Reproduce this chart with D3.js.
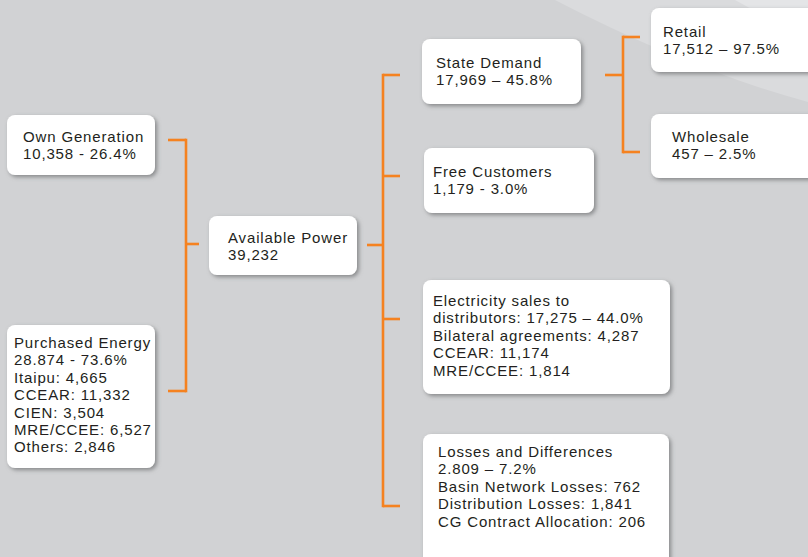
<!DOCTYPE html>
<html>
<head>
  <meta charset="UTF-8">
  <script src="https://d3js.org/d3.v7.min.js"></script>
  <style>
    html, body { margin: 0; padding: 0; background: #d1d2d4; }
    svg { display: block; }
    .boxtext { font-family: 'Liberation Sans', Arial, sans-serif; font-size: 15px; fill: #231f20; letter-spacing: 0.85px; }
  </style>
</head>
<body>
<svg id="chart"></svg>
<script>
  // node data
  const nodeIds = ['own', 'purchased', 'available', 'state', 'free', 'sales', 'losses', 'retail', 'wholesale'];
  const nodeTitles = ['Own Generation', 'Purchased Energy', 'Available Power', 'State Demand', 'Free Customers',
    'Electricity sales to', 'Losses and Differences', 'Retail', 'Wholesale'];
  const nodeValues = ['10,358', '28.874', '39,232', '17,969', '1,179', '17,275', '2.809', '17,512', '457'];
  const nodeShares = ['26.4%', '73.6%', null, '45.8%', '3.0%', '44.0%', '7.2%', '97.5%', '2.5%'];
  const nodeSeps = [' - ', ' - ', '', ' – ', ' - ', ' – ', ' – ', ' – ', ' – '];
  const nodeDetails = {
    purchased: ['Itaipu: 4,665', 'CCEAR: 11,332', 'CIEN: 3,504', 'MRE/CCEE: 6,527', 'Others: 2,846'],
    sales: ['Bilateral agreements: 4,287', 'CCEAR: 11,174', 'MRE/CCEE: 1,814'],
    losses: ['Basin Network Losses: 762', 'Distribution Losses: 1,841', 'CG Contract Allocation: 206']
  };
  const valuePrefix = { sales: 'distributors: ' };

  // tree links: parent -> children
  const treeLinks = [
    { parent: 'available', children: ['own', 'purchased'] },
    { parent: 'available', children: ['state', 'free', 'sales', 'losses'] },
    { parent: 'state', children: ['retail', 'wholesale'] }
  ];

  // layout (box geometry)
  const layout = {
    own:       { x: 7,   y: 115, w: 148, h: 60,  tx: 16, ty: 27 },
    purchased: { x: 7,   y: 325, w: 148, h: 143, tx: 7,  ty: 23 },
    available: { x: 209, y: 216, w: 148, h: 59,  tx: 19, ty: 27 },
    state:     { x: 422, y: 39,  w: 159, h: 65,  tx: 14, ty: 29 },
    free:      { x: 424, y: 148, w: 170, h: 65,  tx: 9,  ty: 29 },
    sales:     { x: 423, y: 280, w: 247, h: 114, tx: 10, ty: 26 },
    losses:    { x: 423, y: 434, w: 246, h: 140, tx: 15, ty: 23 },
    retail:    { x: 651, y: 8,   w: 170, h: 64,  tx: 12, ty: 29 },
    wholesale: { x: 651, y: 114, w: 170, h: 64,  tx: 21, ty: 28 }
  };
  const lineHeight = 17.4;
  const brackets = [
    { spine: 186, armX: 168, arms: { own: 140, purchased: 391 }, stemY: 244, stemX: 199 },
    { spine: 383, armX: 400, arms: { state: 75, free: 176, sales: 319, losses: 506 }, stemY: 245, stemX: 367 },
    { spine: 623, armX: 640, arms: { retail: 37, wholesale: 152 }, stemY: 75, stemX: 605 }
  ];

  const width = 808, height = 557;
  const svg = d3.select('#chart').attr('width', width).attr('height', height);

  const defs = svg.append('defs');
  const shadow = defs.append('filter').attr('id', 'shadow')
    .attr('x', '-10%').attr('y', '-10%').attr('width', '130%').attr('height', '130%');
  shadow.append('feDropShadow')
    .attr('dx', 2).attr('dy', 2).attr('stdDeviation', 2)
    .attr('flood-color', '#6d6e71').attr('flood-opacity', 0.75);

  // background
  svg.append('rect').attr('width', width).attr('height', height).attr('fill', '#d1d2d4');
  svg.append('path')
    .attr('d', 'M555,0 Q690,70 808,102 L808,0 Z')
    .attr('fill', '#dadbdd');
  svg.append('path')
    .attr('d', 'M735,0 Q775,22 808,38 L808,0 Z')
    .attr('fill', '#e4e5e7');

  // connectors
  const line = d3.line();
  const conn = svg.append('g')
    .attr('fill', 'none')
    .attr('stroke', '#f58220')
    .attr('stroke-width', 2.6);

  treeLinks.forEach((lk, i) => {
    const b = brackets[i];
    const ys = lk.children.map(c => b.arms[c]);
    const y0 = d3.min(ys), y1 = d3.max(ys);
    conn.append('path').attr('d', line([[b.spine, y0 - 1.3], [b.spine, y1 + 1.3]]));
    lk.children.forEach(c => {
      conn.append('path').attr('d', line([[b.spine, b.arms[c]], [b.armX, b.arms[c]]]));
    });
    conn.append('path').attr('d', line([[b.spine, b.stemY], [b.stemX, b.stemY]]));
  });

  // nodes
  const nodes = nodeIds.map((id, i) => {
    const lines = [nodeTitles[i]];
    let second = (valuePrefix[id] || '') + nodeValues[i];
    if (nodeShares[i]) second += nodeSeps[i] + nodeShares[i];
    lines.push(second);
    (nodeDetails[id] || []).forEach(t => lines.push(t));
    return { id, lines, ...layout[id] };
  });

  const g = svg.append('g').selectAll('g.node')
    .data(nodes)
    .join('g')
    .attr('class', 'node')
    .attr('transform', d => `translate(${d.x},${d.y})`);

  g.append('rect')
    .attr('width', d => d.w)
    .attr('height', d => d.h)
    .attr('rx', 8)
    .attr('fill', '#ffffff')
    .attr('filter', 'url(#shadow)');

  g.append('text')
    .attr('class', 'boxtext')
    .selectAll('tspan')
    .data(d => d.lines.map((t, j) => ({ t, j, d })))
    .join('tspan')
    .attr('x', e => e.d.tx)
    .attr('y', e => e.d.ty + e.j * lineHeight)
    .text(e => e.t);
</script>
</body>
</html>
